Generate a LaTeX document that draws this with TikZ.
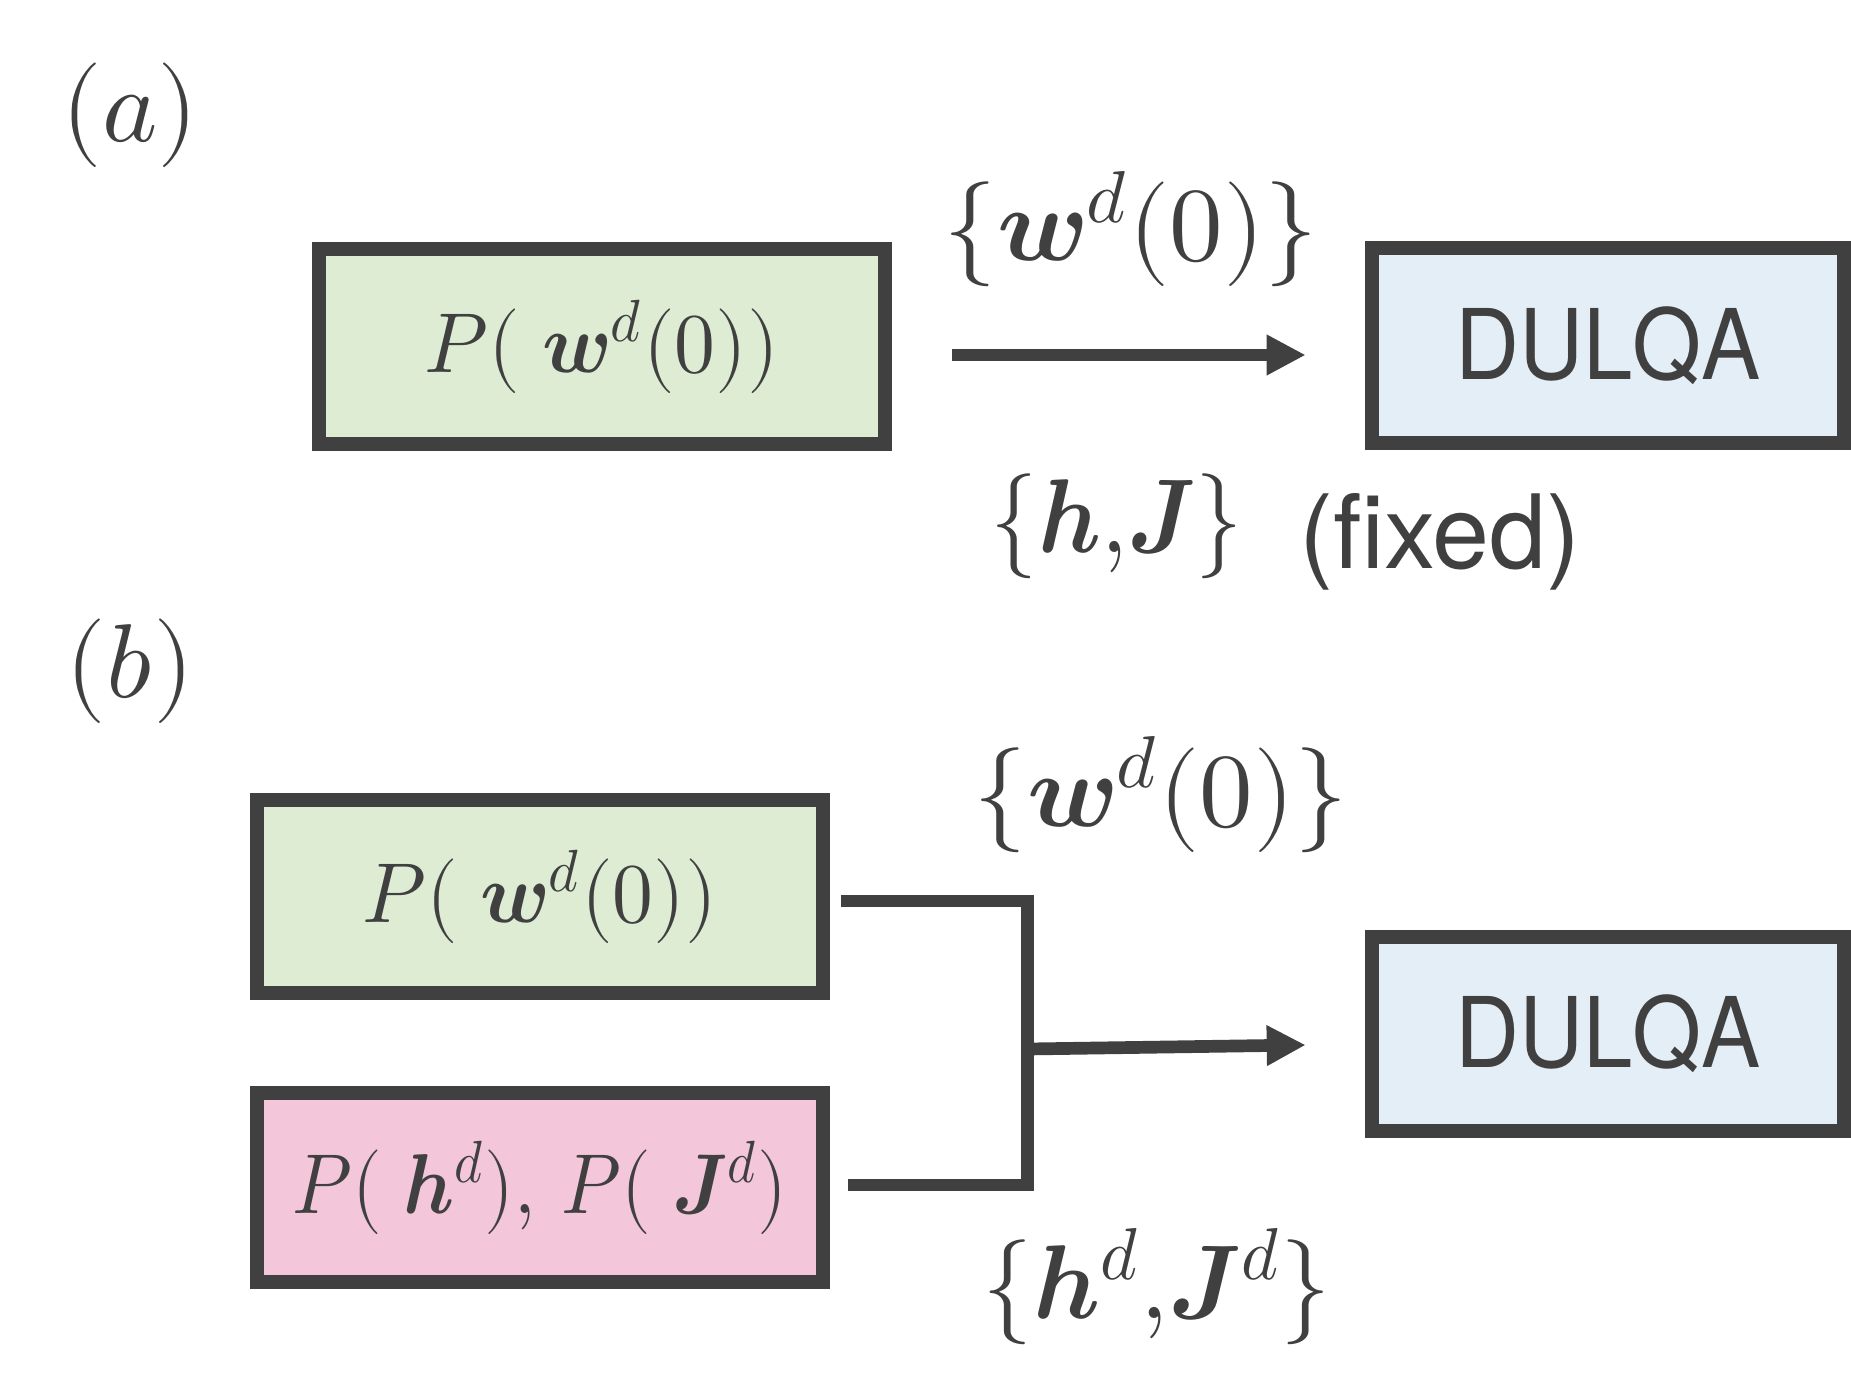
\documentclass[tikz,border=0pt]{standalone}
\usepackage{fontspec}
\usepackage{unicode-math}
\setmathfont{Latin Modern Math}
\usepackage{graphicx}
\usetikzlibrary{arrows.meta,calc}
\newfontfamily\heros{TeX Gyre Heros}
\definecolor{dg}{RGB}{64,64,64}
\definecolor{gfill}{RGB}{221,236,211}
\definecolor{bfill}{RGB}{227,238,247}
\definecolor{pfill}{RGB}{243,198,218}
\begin{document}
\begin{tikzpicture}[x=0.4pt,y=-0.4pt,
  box/.style={draw=dg,line width=5.6pt,inner sep=0pt,text=dg},
  wbox/.style={box,minimum width=226.4pt,minimum height=78pt},
  qbox/.style={box,fill=bfill,minimum width=188.8pt,minimum height=78pt,
     font=\heros\fontsize{39}{44}\selectfont},
  mtext/.style={font=\fontsize{34}{40}\selectfont},
  lab/.style={text=dg,inner sep=0pt,anchor=base,font=\fontsize{42}{50}\selectfont},
  conn/.style={draw=dg,line width=5.08pt,line join=miter},
  arr/.style={conn,-{Triangle[length=15.6pt,width=15.2pt]}}]
\useasboundingbox (0,0) rectangle (1851,1397);

% (a)
\node[lab] (la) at (130,142) {$(a)$};
\node[wbox,fill=gfill,mtext] (ga) at (602,346.5) {\scalebox{0.96}[1]{$P(\;\symbfit{w}^{d}(0))$}};
\node[qbox] (qa) at (1608,345.5) {\scalebox{0.91}[1]{DULQA}};
\coordinate (a1) at (951.5,355);
\coordinate (a2) at (1305.7,355);
\draw[arr] (a1) -- (a2);
\node[lab] (wa) at (1131,261) {\scalebox{1.02}[1]{$\{\symbfit{w}^{d}(0)\}$}};
\node[lab] (hja) at (1117,553) {\scalebox{0.9}[1]{$\{\symbfit{h}{,}\symbfit{J}\}$}};
\node[lab,font=\heros\fontsize{41}{48}\selectfont] (fx) at (1440,568) {(fixed)};

% (b)
\node[lab] (lb) at (130,697) {$(b)$};
\node[box,fill=gfill,mtext,minimum width=226.4pt,minimum height=77.2pt] (gb) at (540,896.5) {\scalebox{0.96}[1]{$P(\;\symbfit{w}^{d}(0))$}};
\node[box,fill=pfill,mtext,minimum width=226.4pt,minimum height=75.6pt] (pb) at (540,1187.5) {\scalebox{0.9}[1]{$P(\;\symbfit{h}^{d}),\,P(\;\symbfit{J}^{d})$}};
\node[qbox,minimum height=77.6pt] (qb) at (1608,1034) {\scalebox{0.91}[1]{DULQA}};
\coordinate (c1) at (840.5,901);
\coordinate (c2) at (1027.7,901);
\coordinate (c3) at (1027.7,1185);
\coordinate (c4) at (847.7,1185);
\draw[conn] (c1) -- (c2) -- (c3) -- (c4);
\coordinate (b1) at (1027.7,1049);
\coordinate (b2) at (1305.7,1045);
\draw[arr] (b1) -- (b2);
\node[lab] (wb) at (1161,826) {\scalebox{1.02}[1]{$\{\symbfit{w}^{d}(0)\}$}};
\node[lab] (hjb) at (1157,1318) {\scalebox{0.96}[1]{$\{\symbfit{h}^{d}{,}\symbfit{J}^{d}\}$}};
\end{tikzpicture}
\end{document}
